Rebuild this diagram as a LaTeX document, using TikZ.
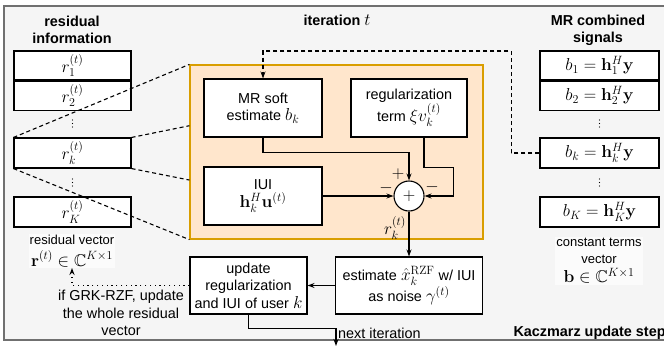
\documentclass[tikz,border=0pt]{standalone}
\usepackage[no-math]{fontspec}
\setmainfont{Liberation Sans}
\usepackage{amsmath, amssymb}
\usetikzlibrary{arrows.meta, positioning, calc}
\definecolor{framefill}{HTML}{F5F5F5}
\definecolor{framegray}{HTML}{707070}
\definecolor{orngfill}{HTML}{FFE6CC}
\definecolor{orngline}{HTML}{D99E00}
\newcommand{\mth}[1]{{\fontsize{17}{20}\selectfont$#1$}}

\begin{document}
\begin{tikzpicture}[x=1pt, y=-1pt,
		font=\fontsize{14.4}{17.5}\selectfont,
		cell/.style={draw, fill=white, line width=1.1pt, inner sep=0pt, minimum height=29pt},
		blk/.style={draw, fill=white, line width=1.1pt, inner sep=0pt, align=center},
		arr/.style={line width=1.1pt, -{Stealth[length=7pt, width=5pt]}},
		dsh/.style={line width=1.1pt, dash pattern=on 4pt off 3pt},
		ttl/.style={font=\fontsize{14.4}{17}\selectfont\bfseries, align=center}]
	\useasboundingbox (0,0) rectangle (664,346);
	\draw[draw=framegray, fill=framefill, line width=1.2pt] (4,6) rectangle (675,340);
	\node[draw=orngline, fill=orngfill, line width=1.2pt, minimum width=293pt, minimum height=174pt] (orng) at (336.5,152) {};
	\node[ttl] (restitle) at (72,30) {residual\\information};
	\node[ttl] (bstitle) at (598,30) {MR combined\\signals};
	\node[ttl] (ittitle) at (337,20) {iteration \mth{t}};
	\node[cell, minimum width=117pt] (r1) at (72.5,65.5) {\mth{r_1^{(t)}}};
	\node[cell, minimum width=117pt, below=0pt of r1] (r2) {\mth{r_2^{(t)}}};
	\node[cell, minimum width=117pt, minimum height=30pt] (rk) at (72.5,153) {\mth{r_k^{(t)}}};
	\node[cell, minimum width=117pt, minimum height=30pt] (rK) at (72.5,212) {\mth{r_K^{(t)}}};
	\node[cell, minimum width=119pt] (b1) at (599.5,65.5) {\mth{b_1 = \mathbf{h}_1^H\mathbf{y}}};
	\node[cell, minimum width=119pt, below=0pt of b1] (b2) {\mth{b_2 = \mathbf{h}_2^H\mathbf{y}}};
	\node[cell, minimum width=119pt, minimum height=30pt] (bk) at (599.5,153) {\mth{b_k = \mathbf{h}_k^H\mathbf{y}}};
	\node[cell, minimum width=119pt, minimum height=30pt] (bK) at (599.5,212) {\mth{b_K = \mathbf{h}_K^H\mathbf{y}}};
	\foreach \xx in {72.5, 599.5}
		\foreach \yy in {120, 123.5, 127, 179, 182.5, 186}
			\fill (\xx,\yy) circle (0.6pt);
	\node[align=center, fill=white!60!framefill, inner sep=1pt, font=\fontsize{13}{15}\selectfont] (rvec) at (72,251) {residual vector\\[5pt]\mth{\mathbf{r}^{(t)} \in \mathbb{C}^{K\times 1}}};
	\node[align=center, fill=white!60!framefill, inner sep=1pt, font=\fontsize{13}{15.5}\selectfont] (bvec) at (599,261) {constant terms\\[1pt]vector\\[4pt]\mth{\mathbf{b} \in \mathbb{C}^{K\times 1}}};
	\node[align=center, font=\fontsize{14.4}{17.5}\selectfont] (grk) at (121,313) {if GRK-RZF, update\\the whole residual\\vector};
	\node[anchor=west, font=\fontsize{14.4}{17}\selectfont\bfseries] (kcz) at (510,333) {Kaczmarz update step};
	\node[blk, minimum width=118pt, minimum height=58pt] (mr) at (263,108) {MR soft\\estimate \mth{b_k}};
	\node[blk, minimum width=116pt, minimum height=58pt] (reg) at (409,108) {regularization\\term \mth{\xi v_k^{(t)}}};
	\node[blk, minimum width=118pt, minimum height=58pt] (iui) at (263,196) {IUI\\\mth{\mathbf{h}_k^H\mathbf{u}^{(t)}}};
	\node[circle, draw, fill=white, line width=1.1pt, minimum size=30pt, inner sep=0pt] (sum) at (409,196) {\mth{+}};
	\node[blk, minimum width=117pt, minimum height=57pt] (upd) at (248.5,285.5) {update\\regularization\\and IUI of user \mth{k}};
	\node[blk, minimum width=147pt, minimum height=57pt] (est) at (409,285.5) {estimate \mth{\hat{x}_k^{\mathrm{RZF}}} w/ IUI\\as noise \mth{\gamma^{(t)}}};
	\node (plus) at (398,174) {\mth{+}};
	\node (mina) at (386,188) {\mth{-}};
	\node (minb) at (432,187) {\mth{-}};
	\node (rout) at (395,228) {\mth{r_k^{(t)}}};
	\node[anchor=west, inner sep=1pt] (nxtlbl) at (337,333) {next iteration};
	\coordinate (ctop) at (263,51);
	\coordinate (nxt) at (336,346);
	\draw[dsh] (rk.north west) -- (orng.north west);
	\draw[dsh] (rk.north east) -- ($(orng.north west)!0.35!(orng.south west)$);
	\draw[dsh] (rk.south east) -- ($(orng.north west)!0.66!(orng.south west)$);
	\draw[dsh] (rk.south west) -- (orng.south west);
	\draw[dsh, -{Stealth[length=7pt, width=5pt]}] (bk.west) -- ++(-28,0) |- (ctop) -- (mr.north);
	\draw[arr] (mr.south) -- ++(0,15) -| (sum.north);
	\draw[arr] ([xshift=15pt]reg.south) -- ++(0,30) -| ([xshift=29pt]sum.east) -- (sum.east);
	\draw[arr] (iui.east) -- (sum.west);
	\draw[arr] (sum.south) -- (est.north);
	\draw[arr] (est.west) -- (upd.east);
	\draw[arr] (upd.south) -- ++(0,14) -| (nxt);
	\draw[line width=1.2pt, dash pattern=on 1.2pt off 3.6pt, -{Stealth[length=7pt, width=5pt]}] (upd.west) -| (rvec.south);
\end{tikzpicture}
\end{document}
